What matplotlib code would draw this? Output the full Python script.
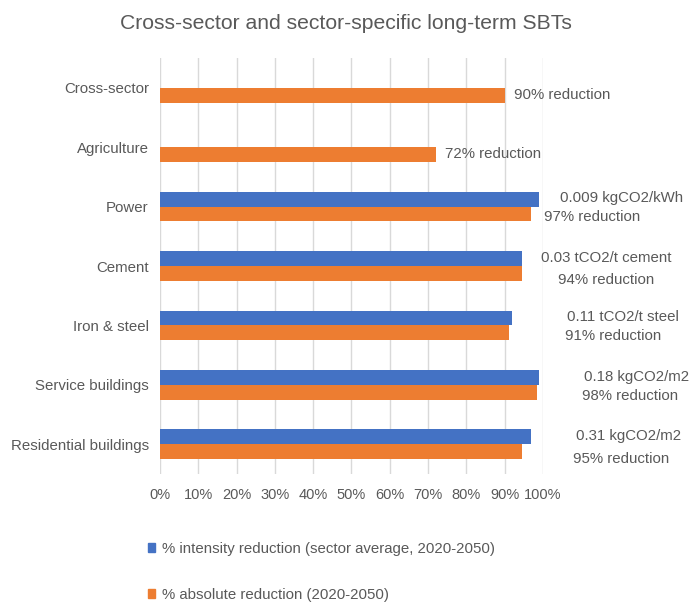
import matplotlib.pyplot as plt
from matplotlib.patches import Patch
import numpy as np

plt.rcParams['font.family'] = ['Liberation Sans', 'DejaVu Sans']

# data, top row first
sectors = ["Cross-sector", "Agriculture", "Power", "Cement", "Iron & steel",
           "Service buildings", "Residential buildings"]
intensity = [0, 0, 99, 94.5, 92, 99, 97]          # % intensity reduction
absolute = [90, 72, 97, 94.5, 91, 98.5, 94.5]     # % absolute reduction
intensity_labels = ["", "", "0.009 kgCO2/kWh", "0.03 tCO2/t cement",
                    "0.11 tCO2/t steel", "0.18 kgCO2/m2", "0.31 kgCO2/m2"]
absolute_labels = ["90% reduction", "72% reduction", "97% reduction",
                   "94% reduction", "91% reduction", "98% reduction",
                   "95% reduction"]
# where Excel left the custom labels (left edge in % of axis, offset in rows)
intensity_label_x = [0, 0, 104.4, 99.5, 106.3, 110.7, 108.6]
absolute_label_x = [92.5, 74.5, 100.3, 103.8, 105.7, 110.2, 107.8]
absolute_label_dy = [0.13, 0.12, 0.18, 0.24, 0.18, 0.18, 0.25]

blue = "#4472C4"
orange = "#ED7D31"
grey = "#595959"
fs = 10.8

fig = plt.figure(figsize=(6.91, 6.08), dpi=100)
ax = fig.add_axes([0.2315, 0.2204, 0.5543, 0.6842])

y = np.arange(len(sectors))
h = 0.25
ax.barh(y - h / 2, intensity, height=h, color=blue, zorder=3)
ax.barh(y + h / 2, absolute, height=h, color=orange, zorder=3)

for i in range(len(sectors)):
    if intensity_labels[i]:
        ax.text(intensity_label_x[i], y[i] - 0.14, intensity_labels[i],
                fontsize=fs, color=grey, va="center", ha="left", clip_on=False)
    ax.text(absolute_label_x[i], y[i] + absolute_label_dy[i], absolute_labels[i],
            fontsize=fs, color=grey, va="center", ha="left", clip_on=False)

ax.set_xlim(0, 100)
ax.set_ylim(len(sectors) - 0.5, -0.5)
ax.set_xticks(np.arange(0, 101, 10))
ax.set_xticklabels([f"{v}%" for v in range(0, 101, 10)])
ax.set_yticks(y)
ax.set_yticklabels(sectors)
ax.tick_params(axis="both", length=0, labelsize=fs, colors=grey, pad=8)
ax.tick_params(axis="x", labelsize=10.5, pad=10)
ax.grid(axis="x", color="#D9D9D9", linewidth=1, zorder=0)
for s in ax.spines.values():
    s.set_visible(False)

fig.text(0.5, 0.962, "Cross-sector and sector-specific long-term SBTs",
         ha="center", va="center", fontsize=15.2, color=grey)

handles = [Patch(color=blue), Patch(color=orange)]
fig.legend(handles,
           ["% intensity reduction (sector average, 2020-2050)",
            "% absolute reduction (2020-2050)"],
           loc="upper left", bbox_to_anchor=(0.214, 0.109), frameon=False,
           fontsize=fs, labelcolor=grey, handlelength=0.5, handleheight=0.5,
           handletextpad=0.45, labelspacing=2.15, borderpad=0, borderaxespad=0)

fig.savefig("out.png", dpi=100)
